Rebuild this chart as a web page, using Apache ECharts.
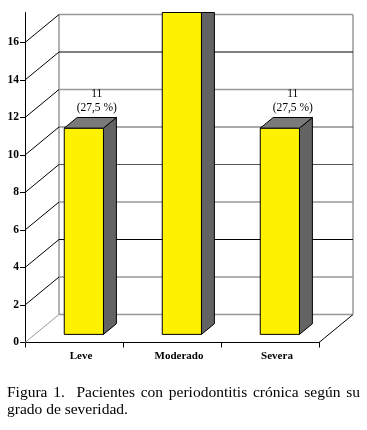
<!DOCTYPE html>
<html>
<head>
<meta charset="utf-8">
<script src="https://cdn.jsdelivr.net/npm/echarts@6/dist/echarts.min.js"></script>
<style>
html,body{margin:0;padding:0;background:#fff;}
#chart{width:367px;height:430px;}
</style>
</head>
<body>
<div id="chart"></div>
<script>
const categories = ['Leve', 'Moderado', 'Severa'];
const patients = [11, 18, 11];
const yTicks = [0, 2, 4, 6, 8, 10, 12, 14, 16];
const captionLine1 = 'Figura 1.  Pacientes con periodontitis crónica según su';
const captionLine2 = 'grado de severidad.';

const totalPatients = patients.reduce((a, b) => a + b, 0);

// 3D depth offset of the back wall
const DX = 34, DY = -28;
const F0 = 0.29, F1 = 0.67; // bar depth fractions
const SERIF = '"Liberation Serif", "Times New Roman", serif';

const gridStyle = {
  0: ['#999999', 1.5], 2: ['#999999', 1.5], 4: ['#000000', 1], 6: ['#999999', 1.5],
  8: ['#555555', 1], 10: ['#555555', 1], 12: ['#999999', 1.5], 14: ['#000000', 1], 16: ['#999999', 1.5]
};

function wallItem(params, api) {
  const cs = params.coordSys;
  const v = api.value(1);
  const y = api.coord([0, v])[1];
  const x0 = cs.x, x1 = cs.x + cs.width;
  const st = gridStyle[v] || ['#999999', 1];
  const children = [
    { type: 'line', shape: { x1: x0 + DX, y1: y + DY, x2: x1 + DX, y2: y + DY },
      style: { stroke: st[0], lineWidth: st[1] } },
    { type: 'line', shape: { x1: x0, y1: y, x2: x0 + DX, y2: y + DY },
      style: { stroke: v === 0 ? '#999999' : '#000000', lineWidth: 1 } }
  ];
  if (v === 0) {
    const topY = api.coord([0, yTicks[yTicks.length - 1]])[1] + DY;
    children.push(
      { type: 'line', shape: { x1: x1, y1: y, x2: x1 + DX, y2: y + DY }, style: { stroke: '#000', lineWidth: 1 } },
      { type: 'line', shape: { x1: x0 + DX, y1: y + DY, x2: x0 + DX, y2: topY }, style: { stroke: '#999999', lineWidth: 1.5 } },
      { type: 'line', shape: { x1: x1 + DX, y1: y + DY, x2: x1 + DX, y2: topY }, style: { stroke: '#999999', lineWidth: 1.5 } }
    );
  }
  return { type: 'group', children };
}

function barItem(params, api) {
  const cs = params.coordSys;
  const T = cs.y;
  const i = api.value(0), v = api.value(1);
  const base = api.coord([i, 0]);
  const top = api.coord([i, v]);
  const w = api.size([1, 0])[0] * 0.4;
  const cx = base[0] + F0 * DX;
  const xl = cx - w / 2, xr = cx + w / 2;
  const yb = base[1] + F0 * DY;
  const yt = top[1] + F0 * DY;
  const dx = (F1 - F0) * DX, dy = (F1 - F0) * DY;
  const ytc = Math.max(yt, T);
  const children = [];
  children.push({ type: 'polygon', shape: { points: [[xr, yb], [xr + dx, yb + dy], [xr + dx, Math.max(yt + dy, T)], [xr, ytc]] },
    style: { fill: '#636363', stroke: '#000', lineWidth: 1 } });
  children.push({ type: 'rect', shape: { x: xl, y: ytc, width: w, height: yb - ytc },
    style: { fill: '#FFF200', stroke: '#000', lineWidth: 1 } });
  if (yt + dy >= T) {
    children.push({ type: 'polygon', shape: { points: [[xl, yt], [xl + dx, yt + dy], [xr + dx, yt + dy], [xr, yt]] },
      style: { fill: '#7a7a7a', stroke: '#000', lineWidth: 1 } });
    const pct = (v / totalPatients * 100).toFixed(1).replace('.', ',');
    children.push({ type: 'text', style: {
      text: v + '\n(' + pct + ' %)', x: cx + dx, y: yt + dy - 3,
      align: 'center', verticalAlign: 'bottom', fontSize: 11.5, fontFamily: SERIF,
      lineHeight: 14, fill: '#000' } });
  }
  return { type: 'group', children };
}

function justifiedLine(text, x0, x1, y, font) {
  const ctx = document.createElement('canvas').getContext('2d');
  ctx.font = font;
  const tokens = text.split(' ');
  const words = [];
  let spaces = 0, pendingSpaces = 0;
  tokens.forEach((t, k) => {
    if (k > 0) pendingSpaces++;
    if (t !== '') { words.push({ t, gapBefore: words.length ? pendingSpaces : 0 }); spaces += words.length > 1 ? pendingSpaces : 0; pendingSpaces = 0; }
  });
  const widths = words.map(w => ctx.measureText(w.t).width);
  const total = widths.reduce((a, b) => a + b, 0);
  const unit = (x1 - x0 - total) / spaces;
  let x = x0;
  return words.map((w, k) => {
    x += w.gapBefore * unit;
    const el = { type: 'text', x: x, y: y, style: { text: w.t, font: font, fill: '#000', verticalAlign: 'middle', align: 'left' } };
    x += widths[k];
    return el;
  });
}

const chart = echarts.init(document.getElementById('chart'), null, { renderer: 'canvas' });
const capFont = '15.5px "Liberation Serif"';
const option = {
  backgroundColor: '#fff',
  animation: false,
  grid: { left: 25, right: 48, top: 12.5, bottom: 87.5 },
  xAxis: {
    type: 'category', data: categories, boundaryGap: true,
    axisLine: { lineStyle: { color: '#000', width: 1 } },
    axisTick: { show: true, length: 5, lineStyle: { color: '#000' } },
    axisLabel: { color: '#000', fontFamily: SERIF, fontWeight: 'bold', fontSize: 11, margin: 8, padding: [0, 0, 0, 14] },
    splitLine: { show: false }
  },
  yAxis: {
    type: 'value', min: 0, max: 17.6, interval: 2,
    axisLine: { show: true, lineStyle: { color: '#000', width: 1 } },
    axisTick: { show: true, length: 5, customValues: yTicks, lineStyle: { color: '#000' } },
    axisLabel: { customValues: yTicks, color: '#000', fontFamily: SERIF, fontWeight: 'bold', fontSize: 11.5, margin: 6 },
    splitLine: { show: false }
  },
  series: [
    { type: 'custom', clip: false, z: 1, renderItem: wallItem, data: yTicks.map(v => [0, v]), silent: true },
    { type: 'custom', clip: false, z: 3, renderItem: barItem, data: patients.map((v, i) => [i, v]), silent: true }
  ],
  graphic: [
    ...justifiedLine(captionLine1, 7, 360, 393, capFont),
    { type: 'text', x: 7, y: 410, style: { text: captionLine2, font: capFont, fill: '#000', verticalAlign: 'middle' } }
  ]
};
chart.setOption(option);
</script>
</body>
</html>
